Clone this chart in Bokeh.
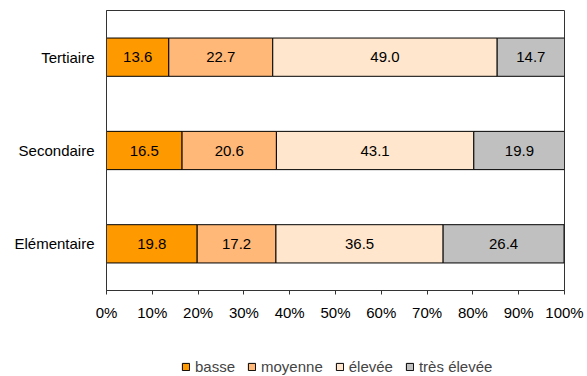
from bokeh.plotting import figure
from bokeh.layouts import column
from bokeh.models import ColumnDataSource, FactorRange, FixedTicker, Legend, LegendItem
from bokeh.core.properties import value
from bokeh.embed import file_html
from bokeh.resources import INLINE

# Education levels (bottom to top) and share of each intensity level (%)
levels = ["Elémentaire", "Secondaire", "Tertiaire"]
series = ["basse", "moyenne", "élevée", "très élevée"]
basse = [19.8, 16.5, 13.6]
moyenne = [17.2, 20.6, 22.7]
elevee = [36.5, 43.1, 49.0]
tres_elevee = [26.4, 19.9, 14.7]
colors = ["#FF9900", "#FFB878", "#FFE6CC", "#C0C0C0"]
tick_values = [0, 10, 20, 30, 40, 50, 60, 70, 80, 90, 100]
tick_labels = ["0%", "10%", "20%", "30%", "40%", "50%", "60%", "70%", "80%", "90%", "100%"]

FONT = "Liberation Sans"
SIZE = "15px"

keys = ["basse", "moyenne", "elevee", "tres_elevee"]
data = {"level": levels, "basse": basse, "moyenne": moyenne,
        "elevee": elevee, "tres_elevee": tres_elevee}
source = ColumnDataSource(data)

p = figure(width=587, height=326, y_range=FactorRange(*levels, range_padding=0),
           x_range=(0, 100), output_backend="svg", toolbar_location=None,
           min_border_left=106, min_border_right=23, min_border_top=10,
           min_border_bottom=36)

p.hbar_stack(keys, y="level", height=0.41, color=colors,
             line_color="black", line_width=1, source=source)

# value labels centred in each segment
lab_x, lab_y, lab_t = [], [], []
for i, lvl in enumerate(levels):
    left = 0.0
    for k in keys:
        v = data[k][i]
        lab_x.append(left + v / 2)
        lab_y.append(lvl)
        lab_t.append(f"{v:.1f}")
        left += v
p.text(x=lab_x, y=lab_y, text=lab_t, text_align="center", text_baseline="middle",
       text_font=value(FONT), text_font_size=SIZE, text_color="black")

p.grid.visible = False
p.outline_line_color = "#333333"
p.outline_line_width = 1
p.background_fill_color = "white"
p.border_fill_color = "white"

p.xaxis.ticker = FixedTicker(ticks=tick_values)
p.xaxis.major_label_overrides = dict(zip(tick_values, tick_labels))
p.xaxis.minor_tick_line_color = None
p.xaxis.major_tick_in = 0
p.xaxis.major_tick_out = 4
p.xaxis.axis_line_color = "#333333"
p.xaxis.major_tick_line_color = "#333333"
p.xaxis.major_label_standoff = 9

p.yaxis.major_tick_line_color = None
p.yaxis.minor_tick_line_color = None
p.yaxis.axis_line_color = "#333333"
p.yaxis.major_label_standoff = 6

for ax in (p.xaxis, p.yaxis):
    ax.major_label_text_font = FONT
    ax.major_label_text_font_size = SIZE
    ax.major_label_text_color = "black"

# legend strip under the chart; its swatches come from undrawn quads (NaN corners)
nan = float("nan")
lf = figure(width=587, height=50, x_range=(0, 1), y_range=(0, 1),
            output_backend="svg", toolbar_location=None, min_border=0,
            outline_line_color=None)
lf.axis.visible = False
lf.grid.visible = False
swatches = [lf.quad(left=[nan], right=[nan], bottom=[nan], top=[nan], fill_color=c,
                    line_color="black", line_width=1) for c in colors]
legend = Legend(items=[LegendItem(label=s, renderers=[r]) for s, r in zip(series, swatches)],
                orientation="horizontal", location=(75, 1),
                glyph_width=9, glyph_height=9, label_standoff=5, spacing=12,
                padding=0, margin=0, border_line_color=None,
                background_fill_alpha=0,
                label_text_font=FONT, label_text_font_size=SIZE)
lf.add_layout(legend, "center")

layout = column(p, lf, spacing=0)
open("out.html", "w").write(file_html(layout, INLINE))
